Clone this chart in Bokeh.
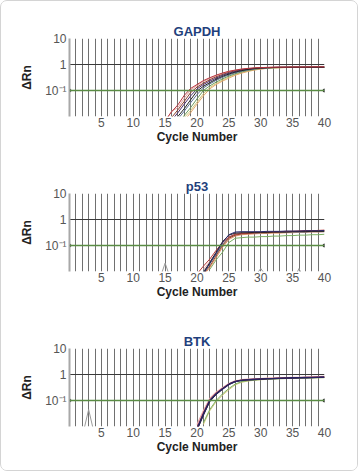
import numpy as np
from bokeh.plotting import figure
from bokeh.layouts import column
from bokeh.models import FixedTicker, Range1d, Span
from bokeh.embed import file_html
from bokeh.resources import INLINE

# ---------------- data ----------------
cycle_min, cycle_max = 0, 40
y_min, y_max = 0.01, 10
threshold = 0.1
x_ticks = [5, 10, 15, 20, 25, 30, 35, 40]
grid_cycles = list(range(1, 41))
y_ticks = [0.1, 1, 10]
y_tick_labels = ["10⁻¹", "1", "10"]
panel_titles = ["GAPDH", "p53", "BTK"]

# each series: (first cycle, values from that cycle to cycle 40)
gapdh_red = (15, [0.007, 0.015, 0.028, 0.065, 0.12, 0.17, 0.24, 0.31, 0.39, 0.47, 0.55, 0.61, 0.67, 0.71, 0.74, 0.76, 0.775, 0.785, 0.79, 0.79, 0.80, 0.80, 0.80, 0.81, 0.81, 0.81])
gapdh_pink = (15, [0.006, 0.016, 0.022, 0.05, 0.105, 0.155, 0.22, 0.29, 0.37, 0.45, 0.53, 0.60, 0.655, 0.70, 0.73, 0.75, 0.77, 0.78, 0.79, 0.79, 0.80, 0.80, 0.81, 0.81, 0.81, 0.82])
gapdh_brown = (16, [0.009, 0.018, 0.038, 0.083, 0.135, 0.19, 0.26, 0.335, 0.415, 0.50, 0.57, 0.63, 0.685, 0.72, 0.745, 0.765, 0.775, 0.78, 0.785, 0.79, 0.79, 0.79, 0.80, 0.80, 0.80])
gapdh_purple = (16, [0.007, 0.014, 0.03, 0.062, 0.115, 0.17, 0.23, 0.30, 0.385, 0.465, 0.54, 0.61, 0.665, 0.71, 0.74, 0.76, 0.77, 0.78, 0.78, 0.78, 0.79, 0.79, 0.79, 0.79, 0.79])
gapdh_black = (17, [0.01, 0.02, 0.044, 0.095, 0.145, 0.20, 0.27, 0.35, 0.43, 0.51, 0.58, 0.645, 0.695, 0.73, 0.75, 0.765, 0.775, 0.78, 0.78, 0.78, 0.78, 0.78, 0.78, 0.78])
gapdh_bluegray = (17, [0.008, 0.016, 0.034, 0.07, 0.125, 0.18, 0.245, 0.32, 0.40, 0.48, 0.555, 0.62, 0.675, 0.715, 0.74, 0.76, 0.77, 0.775, 0.78, 0.78, 0.78, 0.78, 0.78, 0.78])
gapdh_green = (17, [0.005, 0.011, 0.022, 0.048, 0.10, 0.15, 0.21, 0.28, 0.36, 0.44, 0.52, 0.59, 0.65, 0.70, 0.73, 0.75, 0.76, 0.77, 0.77, 0.77, 0.78, 0.78, 0.78, 0.78])
gapdh_olive = (18, [0.009, 0.017, 0.036, 0.075, 0.13, 0.185, 0.25, 0.33, 0.41, 0.49, 0.565, 0.625, 0.68, 0.715, 0.74, 0.755, 0.765, 0.77, 0.775, 0.78, 0.78, 0.78, 0.78])
gapdh_orange = (18, [0.007, 0.014, 0.03, 0.062, 0.115, 0.17, 0.23, 0.30, 0.385, 0.465, 0.54, 0.61, 0.665, 0.71, 0.74, 0.755, 0.765, 0.77, 0.775, 0.78, 0.78, 0.78, 0.78])

p53_navy = (21, [0.008, 0.02, 0.05, 0.13, 0.26, 0.33, 0.34, 0.34, 0.34, 0.34, 0.35, 0.35, 0.35, 0.36, 0.36, 0.36, 0.37, 0.37, 0.37, 0.38])
p53_black = (21, [0.009, 0.022, 0.055, 0.14, 0.25, 0.30, 0.31, 0.31, 0.32, 0.32, 0.32, 0.33, 0.33, 0.33, 0.34, 0.34, 0.34, 0.35, 0.35, 0.35])
p53_red = (20, [0.008, 0.016, 0.03, 0.065, 0.13, 0.21, 0.27, 0.29, 0.30, 0.31, 0.32, 0.33, 0.33, 0.34, 0.35, 0.35, 0.36, 0.37, 0.37, 0.38, 0.39])
p53_pink = (21, [0.012, 0.024, 0.05, 0.11, 0.20, 0.26, 0.28, 0.29, 0.30, 0.31, 0.32, 0.33, 0.33, 0.34, 0.35, 0.35, 0.36, 0.37, 0.38, 0.38])
p53_brown = (21, [0.008, 0.016, 0.04, 0.10, 0.19, 0.25, 0.28, 0.29, 0.30, 0.31, 0.31, 0.32, 0.33, 0.33, 0.34, 0.35, 0.35, 0.36, 0.36, 0.37])
p53_orange = (21, [0.007, 0.014, 0.034, 0.085, 0.17, 0.23, 0.26, 0.27, 0.28, 0.29, 0.29, 0.30, 0.30, 0.31, 0.31, 0.32, 0.32, 0.33, 0.33, 0.34])
p53_bluegray = (21, [0.01, 0.02, 0.045, 0.11, 0.21, 0.27, 0.29, 0.30, 0.30, 0.31, 0.31, 0.32, 0.32, 0.32, 0.33, 0.33, 0.33, 0.34, 0.34, 0.34])
p53_green = (22, [0.012, 0.028, 0.055, 0.13, 0.19, 0.20, 0.21, 0.21, 0.22, 0.22, 0.23, 0.23, 0.24, 0.24, 0.25, 0.25, 0.26, 0.26, 0.27])
p53_noise = (1, [0.003, 0.004, 0.003, 0.003, 0.004, 0.003, 0.003, 0.004, 0.003, 0.003,
                 0.003, 0.004, 0.003, 0.004, 0.021, 0.004, 0.003, 0.003, 0.004, 0.003,
                 0.003, 0.004, 0.003, 0.003, 0.004, 0.003, 0.003, 0.004, 0.006, 0.013,
                 0.006, 0.003, 0.004, 0.003, 0.004, 0.013, 0.004, 0.003, 0.004, 0.003])

btk_navy = (20, [0.008, 0.03, 0.10, 0.18, 0.28, 0.42, 0.54, 0.60, 0.63, 0.65, 0.67, 0.69, 0.70, 0.72, 0.73, 0.74, 0.75, 0.76, 0.77, 0.78, 0.79])
btk_red = (20, [0.009, 0.033, 0.105, 0.19, 0.29, 0.43, 0.55, 0.61, 0.64, 0.66, 0.68, 0.70, 0.71, 0.73, 0.74, 0.75, 0.76, 0.77, 0.78, 0.79, 0.80])
btk_pink = (20, [0.012, 0.04, 0.12, 0.21, 0.31, 0.45, 0.57, 0.63, 0.66, 0.68, 0.70, 0.72, 0.73, 0.75, 0.76, 0.77, 0.78, 0.80, 0.81, 0.83, 0.85])
btk_black = (20, [0.007, 0.027, 0.09, 0.17, 0.27, 0.41, 0.53, 0.59, 0.62, 0.64, 0.66, 0.68, 0.69, 0.71, 0.72, 0.73, 0.74, 0.75, 0.76, 0.77, 0.78])
btk_olive = (21, [0.012, 0.04, 0.09, 0.16, 0.26, 0.40, 0.50, 0.56, 0.60, 0.63, 0.65, 0.67, 0.69, 0.70, 0.71, 0.72, 0.73, 0.74, 0.75, 0.76])
btk_green = (21, [0.014, 0.045, 0.10, 0.18, 0.29, 0.43, 0.53, 0.58, 0.61, 0.64, 0.66, 0.68, 0.69, 0.70, 0.71, 0.72, 0.73, 0.74, 0.75, 0.76])
btk_orange = (20, [0.008, 0.03, 0.095, 0.18, 0.28, 0.42, 0.54, 0.60, 0.63, 0.65, 0.67, 0.69, 0.71, 0.72, 0.73, 0.74, 0.76, 0.77, 0.78, 0.79, 0.80])
btk_noise = (1, [0.003, 0.004, 0.045, 0.004, 0.003, 0.003, 0.004, 0.003, 0.003, 0.004,
                 0.003, 0.003, 0.004, 0.003, 0.003, 0.004, 0.003, 0.003, 0.004, 0.003,
                 0.003, 0.004, 0.003, 0.003, 0.004, 0.003, 0.003, 0.004, 0.003, 0.003,
                 0.004, 0.003, 0.003, 0.004, 0.003, 0.003, 0.004, 0.003, 0.003, 0.004])

# (series, colour, line width)
gapdh_series = [(gapdh_olive, "#d2c77a", 1), (gapdh_orange, "#e6a86c", 1), (gapdh_green, "#6d9c5c", 1),
                (gapdh_bluegray, "#5d7396", 1), (gapdh_pink, "#e2a3a3", 1), (gapdh_brown, "#8e3f2c", 1),
                (gapdh_purple, "#4d2c6c", 1), (gapdh_black, "#222222", 1), (gapdh_red, "#b8353d", 1)]
p53_series = [(p53_noise, "#9a9a9a", 1), (p53_green, "#7cb062", 1), (p53_orange, "#e3946a", 1),
              (p53_pink, "#e8a4a4", 1), (p53_bluegray, "#7282a2", 1), (p53_brown, "#8e4c2c", 1),
              (p53_red, "#b83a3a", 1), (p53_black, "#222222", 1), (p53_navy, "#2c2a6c", 1)]
btk_series = [(btk_noise, "#9a9a9a", 1), (btk_olive, "#d2c77a", 1), (btk_green, "#7cb062", 1),
              (btk_orange, "#e3946a", 1), (btk_pink, "#e8a4a4", 1.2), (btk_red, "#b03040", 1),
              (btk_black, "#222222", 1), (btk_navy, "#2a2262", 1.6)]

FONT = "Liberation Sans"


def make_panel(title, series, height, bottom):
    p = figure(width=356, height=height, title=title,
               x_range=Range1d(cycle_min, cycle_max), y_range=Range1d(y_min, y_max),
               y_axis_type="log", output_backend="svg", toolbar_location=None,
               min_border_left=68, min_border_right=33, min_border_top=37,
               min_border_bottom=bottom)
    p.title.align = "center"
    p.title.text_font = FONT
    p.title.text_font_size = "13px"
    p.title.text_font_style = "bold"
    p.title.text_color = "#1f3f7c"
    p.title.standoff = 0
    p.outline_line_color = None
    p.background_fill_color = "white"
    p.border_fill_color = "white"

    p.xgrid.ticker = FixedTicker(ticks=grid_cycles)
    p.xgrid.grid_line_color = "#707070"
    p.xgrid.grid_line_width = 1
    p.ygrid.ticker = FixedTicker(ticks=[1, 10])
    p.ygrid.grid_line_color = "#3a3a3a"
    p.ygrid.grid_line_width = 1

    for ax in (p.xaxis, p.yaxis):
        ax.major_tick_line_color = None
        ax.minor_tick_line_color = None
        ax.major_tick_out = 0
        ax.major_tick_in = 0
        ax.minor_tick_out = 0
        ax.minor_tick_in = 0
        ax.major_label_text_font = FONT
        ax.major_label_text_font_size = "12px"
        ax.major_label_text_color = "#555555"
        ax.axis_label_text_font = FONT
        ax.axis_label_text_font_size = "12px"
        ax.axis_label_text_font_style = "bold"
        ax.axis_label_text_color = "#222222"

    p.xaxis.ticker = FixedTicker(ticks=x_ticks)
    p.xaxis.axis_line_color = None
    p.xaxis.major_label_standoff = 1
    p.xaxis.axis_label = "Cycle Number"
    p.xaxis.axis_label_standoff = 0

    p.yaxis.ticker = FixedTicker(ticks=y_ticks)
    p.yaxis.major_label_overrides = dict(zip(y_ticks, y_tick_labels))
    p.yaxis.axis_line_color = "#a8a8a8"
    p.yaxis.axis_line_width = 2
    p.yaxis.major_label_standoff = 3
    p.yaxis.axis_label = "ΔRn"
    p.yaxis.axis_label_standoff = 8

    p.add_layout(Span(location=threshold, dimension="width",
                      line_color="#5a8c44", line_width=1.3))
    p.scatter([cycle_min, cycle_max], [threshold, threshold], size=3, color="#222222")

    for (start, vals), color, lw in series:
        xs = list(range(start, start + len(vals)))
        p.line(xs, np.array(vals, dtype=float), line_color=color, line_width=lw)
    return p


p1 = make_panel(panel_titles[0], gapdh_series, 155, 40)
p2 = make_panel(panel_titles[1], p53_series, 155, 40)
p3 = make_panel(panel_titles[2], btk_series, 159, 44)

layout = column(p1, p2, p3, spacing=0,
                styles={"border": "1px solid #d4d4d4", "border-radius": "7px",
                        "overflow": "hidden"})
open("out.html", "w").write(file_html(layout, INLINE))
